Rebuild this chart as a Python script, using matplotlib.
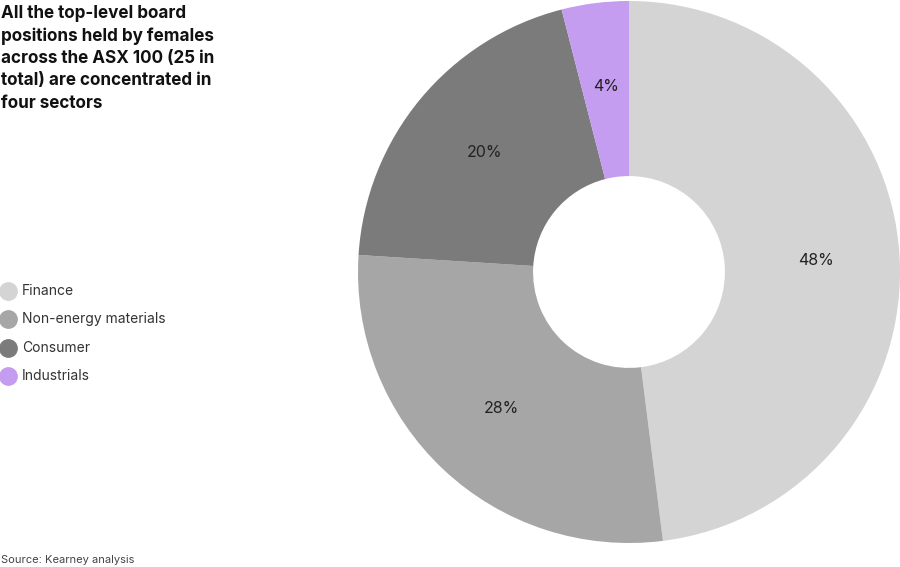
import matplotlib
matplotlib.use("Agg")
import matplotlib.pyplot as plt
from matplotlib.lines import Line2D

categories = ["Finance", "Non-energy materials", "Consumer", "Industrials"]
values = [48, 28, 20, 4]
colors = ["#d4d4d4", "#a6a6a6", "#7b7b7b", "#c49cf0"]
title = "All the top-level board\npositions held by females\nacross the ASX 100 (25 in\ntotal) are concentrated in\nfour sectors"
source = "Source: Kearney analysis"

W, H = 900, 567
fig = plt.figure(figsize=(9, 5.67), dpi=100)
fig.patch.set_facecolor("white")

cx, cy, r = 629, 272, 271
ax = fig.add_axes([(cx - r) / W, (H - cy - r) / H, 2 * r / W, 2 * r / H])
wedges, texts, autotexts = ax.pie(
    values, colors=colors, startangle=90, counterclock=False,
    autopct=lambda p: f"{p:.0f}%", pctdistance=0.69,
    wedgeprops=dict(width=0.646, linewidth=0),
    textprops=dict(fontsize=11.5, color="#222222", family="Inter"),
)
ax.set_xlim(-1, 1)
ax.set_ylim(-1, 1)
ax.set_aspect("equal")
ax.axis("off")

fig.text(1 / W, 1 - 5 / H, title, ha="left", va="top", fontsize=12.3,
         fontweight="bold", family="Inter", color="#111111", linespacing=1.4)

ys = [291, 319, 348, 376]
for cat, col, y in zip(categories, colors, ys):
    fig.add_artist(Line2D([8 / W], [1 - y / H], transform=fig.transFigure,
                          marker="o", markersize=12.5, color=col, linestyle="none"))
    fig.text(22 / W, 1 - y / H, cat, ha="left", va="center", fontsize=10,
             family="Inter", color="#333333")

fig.text(1 / W, 1 - 560 / H, source, ha="left", va="center", fontsize=8,
         family="Inter", color="#444444")

fig.savefig("out.png", dpi=100, facecolor="white")
